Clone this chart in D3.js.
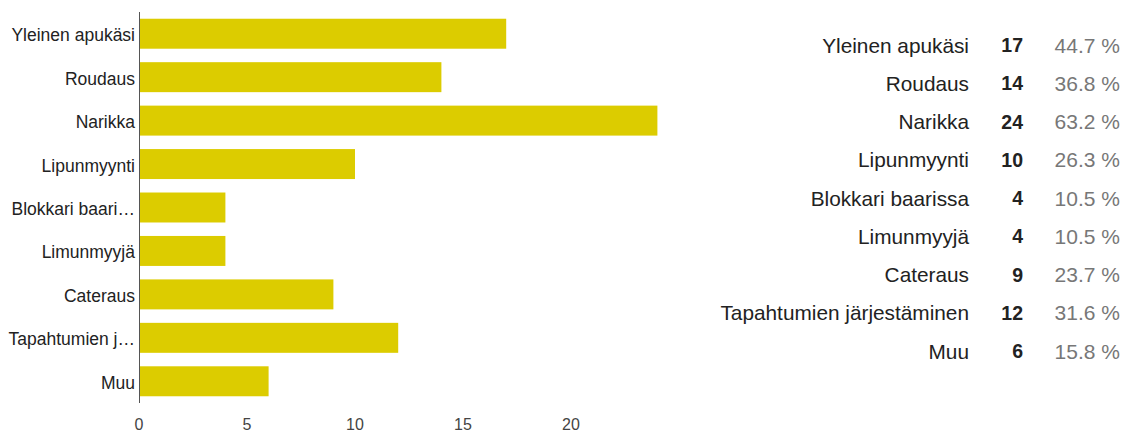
<!DOCTYPE html>
<html>
<head>
<meta charset="utf-8">
<script src="https://cdn.jsdelivr.net/npm/d3@7"></script>
<style>
  body { margin: 0; background: #fff; }
  svg { display: block; font-family: "Liberation Sans", Arial, sans-serif; }
</style>
</head>
<body>
<div id="chart"></div>
<script>
// data
var categories = ["Yleinen apukäsi", "Roudaus", "Narikka", "Lipunmyynti", "Blokkari baarissa",
  "Limunmyyjä", "Cateraus", "Tapahtumien järjestäminen", "Muu"];
var shortLabels = ["Yleinen apukäsi", "Roudaus", "Narikka", "Lipunmyynti", "Blokkari baari…",
  "Limunmyyjä", "Cateraus", "Tapahtumien j…", "Muu"];
var counts = [17, 14, 24, 10, 4, 4, 9, 12, 6];
var percents = ["44.7 %", "36.8 %", "63.2 %", "26.3 %", "10.5 %", "10.5 %", "23.7 %", "31.6 %", "15.8 %"];
var xTicks = [0, 5, 10, 15, 20];

var width = 1131, height = 433;

var svg = d3.select("#chart").append("svg")
  .attr("width", width)
  .attr("height", height);

var x = d3.scaleLinear().domain([0, 5]).range([139, 247]);
var y = d3.scaleBand().domain(categories).range([12, 403]).paddingInner(0.31).paddingOuter(0.155);

// bars
svg.append("g").selectAll("rect")
  .data(categories)
  .enter().append("rect")
  .attr("x", x(0))
  .attr("y", function(d) { return y(d); })
  .attr("width", function(d, i) { return x(counts[i]) - x(0); })
  .attr("height", y.bandwidth())
  .attr("fill", "#dccc00");

// left axis line + labels
svg.append("line")
  .attr("x1", x(0) + 0.5).attr("x2", x(0) + 0.5)
  .attr("y1", 12).attr("y2", 403)
  .attr("stroke", "#555").attr("stroke-width", 1);

svg.append("g").selectAll("text")
  .data(categories)
  .enter().append("text")
  .attr("x", 135)
  .attr("y", function(d) { return y(d) + y.bandwidth() / 2; })
  .attr("dy", "0.43em")
  .attr("text-anchor", "end")
  .attr("font-size", 17.5)
  .attr("fill", "#222")
  .text(function(d, i) { return shortLabels[i]; });

// bottom tick labels
svg.append("g").selectAll("text")
  .data(xTicks)
  .enter().append("text")
  .attr("x", function(d) { return x(d); })
  .attr("y", 424)
  .attr("dy", "0.35em")
  .attr("text-anchor", "middle")
  .attr("font-size", 16)
  .attr("fill", "#444")
  .text(function(d) { return d; });

// summary table on the right
var rowY = d3.scalePoint().domain(categories).range([45, 351]);

var rows = svg.append("g").selectAll("g")
  .data(categories)
  .enter().append("g")
  .attr("transform", function(d) { return "translate(0," + rowY(d) + ")"; });

rows.append("text")
  .attr("x", 969)
  .attr("dy", "0.36em")
  .attr("text-anchor", "end")
  .attr("font-size", 20.8)
  .attr("fill", "#222")
  .text(function(d) { return d; });

rows.append("text")
  .attr("x", 1023)
  .attr("dy", "0.36em")
  .attr("text-anchor", "end")
  .attr("font-size", 19.5)
  .attr("font-weight", "bold")
  .attr("fill", "#222")
  .text(function(d, i) { return counts[i]; });

rows.append("text")
  .attr("x", 1120)
  .attr("dy", "0.36em")
  .attr("text-anchor", "end")
  .attr("font-size", 21)
  .attr("fill", "#777")
  .text(function(d, i) { return percents[i]; });
</script>
</body>
</html>
